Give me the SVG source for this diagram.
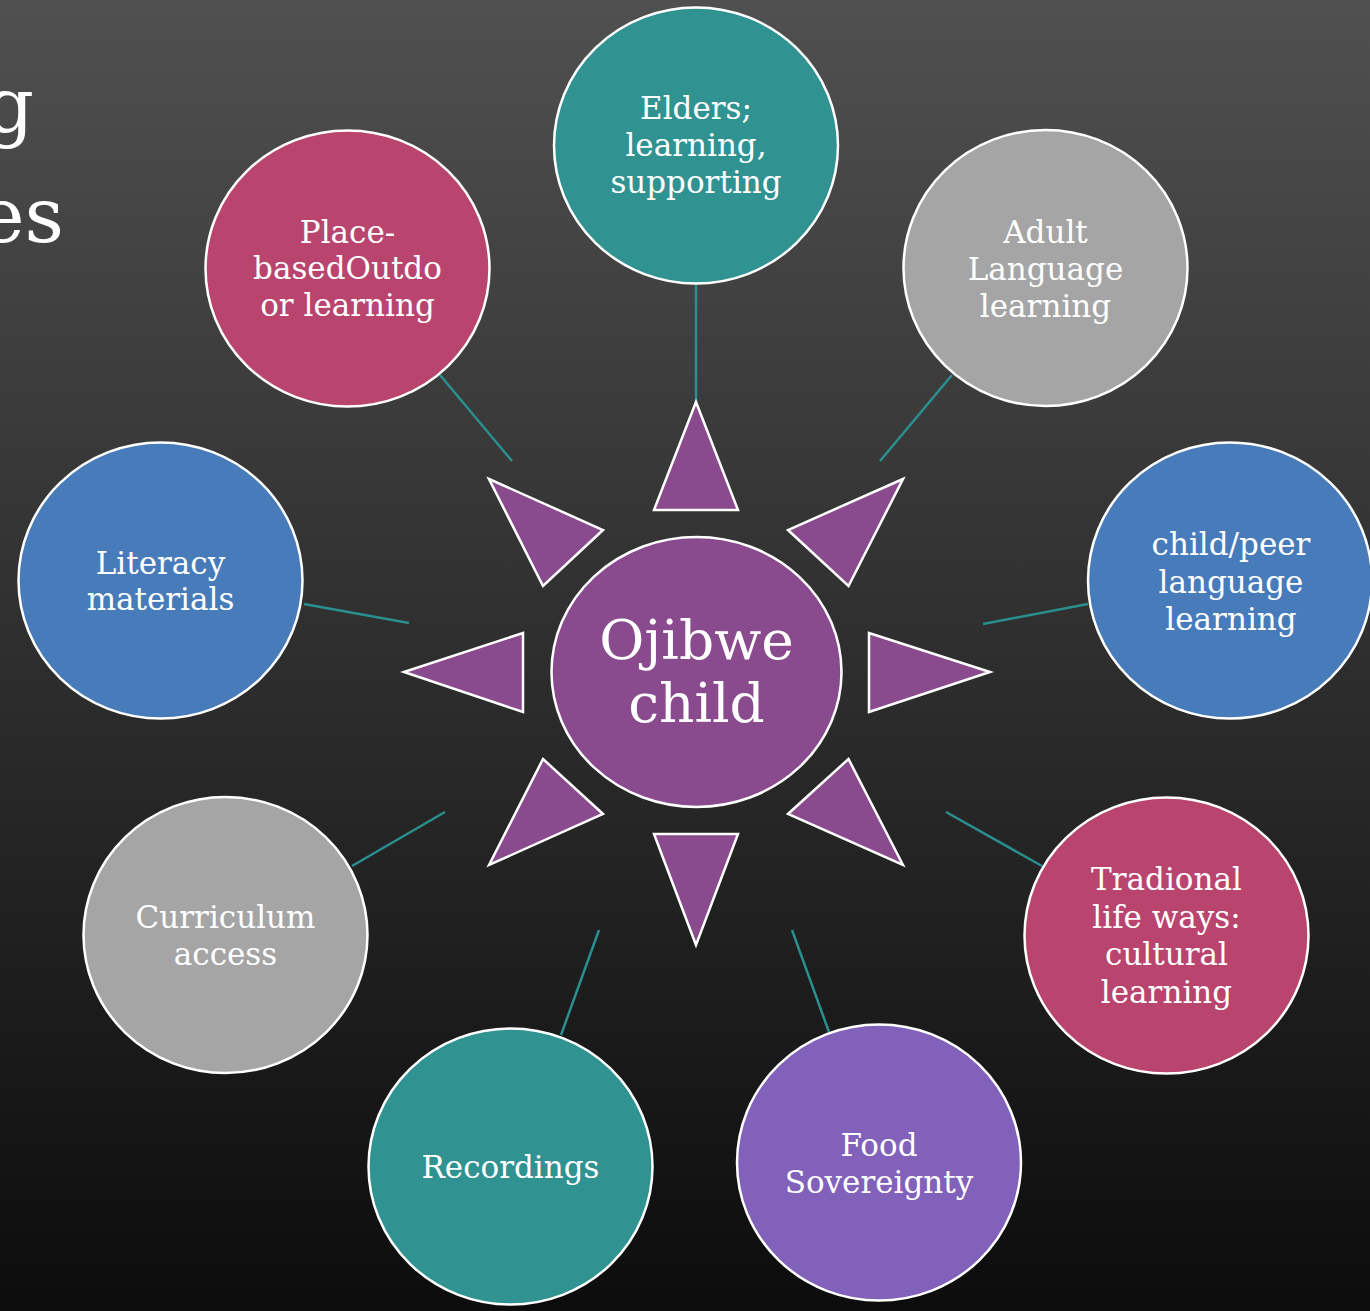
<svg xmlns="http://www.w3.org/2000/svg" width="1370" height="1311" viewBox="0 0 1370 1311">
  <defs>
    <linearGradient id="bg" x1="0" y1="0" x2="0" y2="1">
      <stop offset="0" stop-color="#505050"/>
      <stop offset="1" stop-color="#0c0c0c"/>
    </linearGradient>
  </defs>
  <style>
    .node { stroke: #ffffff; stroke-width: 2.5; }
    .teal { fill: #319292; }
    .gray { fill: #a5a5a5; }
    .blue { fill: #477bba; }
    .crim { fill: #b9446e; }
    .viol { fill: #8161b9; }
    .hub { fill: #8a4a8e; }
    .ray { fill: #8a4a8e; stroke: #ffffff; stroke-width: 2.5; stroke-linejoin: miter; }
    .lbl { font-family: "DejaVu Serif", "Liberation Serif", serif; font-size: 31px; fill: #ffffff; text-anchor: middle; }
    .big { font-family: "DejaVu Serif", "Liberation Serif", serif; font-size: 55px; fill: #ffffff; text-anchor: middle; }
    .title { font-family: "DejaVu Serif", "Liberation Serif", serif; font-size: 77px; fill: #ffffff; text-anchor: end; }
    .conn line { stroke: #2a8f8f; stroke-width: 2.5; }
  </style>
  <rect x="0" y="0" width="1370" height="1311" fill="url(#bg)"/>

  <g id="title">
    <text class="title" x="34" y="132">g</text>
    <text class="title" x="64" y="242">es</text>
  </g>

  <g id="connectors" class="conn">
    <line x1="696" y1="285" x2="696" y2="402"/>
    <line x1="952" y1="375" x2="880" y2="461"/>
    <line x1="1088" y1="604" x2="983" y2="624"/>
    <line x1="1042" y1="866" x2="946" y2="812"/>
    <line x1="829" y1="1032" x2="792" y2="930"/>
    <line x1="561" y1="1035" x2="599" y2="930"/>
    <line x1="352" y1="866" x2="445" y2="812"/>
    <line x1="304" y1="604" x2="409" y2="623"/>
    <line x1="440" y1="375" x2="512" y2="461"/>
  </g>

  <g id="rays">
    <polygon class="ray" points="696,402 738,510 654,510"/>
    <polygon class="ray" points="903,479 788,530 848.5,586"/>
    <polygon class="ray" points="990,672 869,633 869,712"/>
    <polygon class="ray" points="903,865 848.5,759 788,814"/>
    <polygon class="ray" points="696,945 654,834 738,834"/>
    <polygon class="ray" points="489,865 543,759 603,814"/>
    <polygon class="ray" points="404,672 523,633 523,712"/>
    <polygon class="ray" points="489,479 603,530 543,586"/>
  </g>

  <g id="node-center">
    <ellipse class="node hub" cx="696.5" cy="672" rx="145" ry="135"/>
    <text class="big" x="696.5" y="659">Ojibwe</text>
    <text class="big" x="696.5" y="722">child</text>
  </g>

  <g id="node-elders">
    <ellipse class="node teal" cx="696" cy="145.5" rx="142" ry="138"/>
    <text class="lbl" x="696" y="119">Elders;</text>
    <text class="lbl" x="696" y="156">learning,</text>
    <text class="lbl" x="696" y="193">supporting</text>
  </g>

  <g id="node-adult">
    <ellipse class="node gray" cx="1045.5" cy="268" rx="142" ry="138"/>
    <text class="lbl" x="1045.5" y="243">Adult</text>
    <text class="lbl" x="1045.5" y="280">Language</text>
    <text class="lbl" x="1045.5" y="317">learning</text>
  </g>

  <g id="node-childpeer">
    <ellipse class="node blue" cx="1230" cy="580.5" rx="142" ry="138"/>
    <text class="lbl" x="1231" y="555">child/peer</text>
    <text class="lbl" x="1231" y="593">language</text>
    <text class="lbl" x="1231" y="630">learning</text>
  </g>

  <g id="node-traditional">
    <ellipse class="node crim" cx="1166.5" cy="935.5" rx="142" ry="138"/>
    <text class="lbl" x="1166.5" y="890">Tradional</text>
    <text class="lbl" x="1166.5" y="928">life ways:</text>
    <text class="lbl" x="1166.5" y="965">cultural</text>
    <text class="lbl" x="1166.5" y="1003">learning</text>
  </g>

  <g id="node-food">
    <ellipse class="node viol" cx="879" cy="1162.5" rx="142" ry="138"/>
    <text class="lbl" x="879" y="1156">Food</text>
    <text class="lbl" x="879" y="1193">Sovereignty</text>
  </g>

  <g id="node-recordings">
    <ellipse class="node teal" cx="510.5" cy="1166.5" rx="142" ry="138"/>
    <text class="lbl" x="510.5" y="1178">Recordings</text>
  </g>

  <g id="node-curriculum">
    <ellipse class="node gray" cx="225.5" cy="935" rx="142" ry="138"/>
    <text class="lbl" x="225.5" y="928">Curriculum</text>
    <text class="lbl" x="225.5" y="965">access</text>
  </g>

  <g id="node-literacy">
    <ellipse class="node blue" cx="160.5" cy="580.5" rx="142" ry="138"/>
    <text class="lbl" x="160.5" y="574">Literacy</text>
    <text class="lbl" x="160.5" y="610">materials</text>
  </g>

  <g id="node-place">
    <ellipse class="node crim" cx="347.5" cy="268.5" rx="142" ry="138"/>
    <text class="lbl" x="347.5" y="243">Place-</text>
    <text class="lbl" x="347.5" y="279">basedOutdo</text>
    <text class="lbl" x="347.5" y="316">or learning</text>
  </g>
</svg>
